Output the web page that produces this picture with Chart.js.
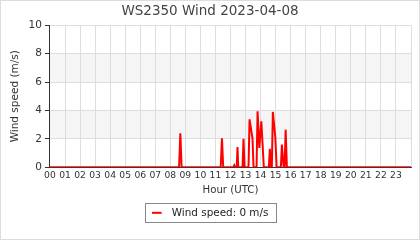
<!DOCTYPE html>
<html>
<head>
<meta charset="utf-8">
<script src="https://cdn.jsdelivr.net/npm/chart.js@4/dist/chart.umd.min.js"></script>
<style>
  html, body { margin: 0; padding: 0; background: #fff; }
  #wrap { width: 418px; height: 238px; border: 1px solid #ddd; }
  canvas { display: block; }
</style>
</head>
<body>
<div id="wrap"><canvas id="windChart" width="418" height="238"></canvas></div>
<script>
// 風速データ (UTC 時刻, m/s)
const times = [
  '00:00',
  '08:35', '08:40', '08:45',
  '11:21', '11:26', '11:31',
  '12:11', '12:15', '12:19',
  '12:25', '12:28', '12:31',
  '12:48', '12:52', '12:56',
  '13:12', '13:16', '13:28', '13:32',
  '13:44', '13:48', '13:55', '14:03', '14:13',
  '14:33', '14:37', '14:41',
  '14:45', '14:49', '14:59', '15:04',
  '15:21', '15:25', '15:32', '15:36', '15:40', '15:45',
  '24:00'
];
const speeds = [
  0,
  0, 2.4, 0,
  0, 2.05, 0,
  0, 0.15, 0,
  0, 1.43, 0,
  0, 2.0, 0,
  0, 3.38, 2.0, 0,
  0, 3.94, 1.36, 3.24, 0,
  0, 1.3, 0,
  0, 3.9, 2.1, 0,
  0, 1.6, 0, 0, 2.65, 0,
  0
];
const hourLabels = ['00', '01', '02', '03', '04', '05', '06', '07', '08', '09', '10', '11',
  '12', '13', '14', '15', '16', '17', '18', '19', '20', '21', '22', '23'];
const bands = [[2, 4], [6, 8]];

function toHour(t) {
  const [h, m] = t.split(':').map(Number);
  return h + m / 60;
}

const points = times.map((t, i) => ({ x: toHour(t), y: speeds[i] }));

// 凡例のマーカー (左寄せの赤い線)
const marker = document.createElement('canvas');
marker.width = 15;
marker.height = 4;
const mctx = marker.getContext('2d');
mctx.fillStyle = '#ff0000';
mctx.fillRect(0, 1, 10, 2);

// 背景の帯
const bandPlugin = {
  id: 'bands',
  beforeDraw(chart) {
    const { ctx, chartArea, scales } = chart;
    ctx.save();
    ctx.fillStyle = '#f5f5f5';
    bands.forEach(([lo, hi]) => {
      const top = scales.y.getPixelForValue(hi);
      const bottom = scales.y.getPixelForValue(lo);
      ctx.fillRect(chartArea.left, top, chartArea.right - chartArea.left, bottom - top);
    });
    ctx.restore();
  }
};

// 凡例の枠
const legendBoxPlugin = {
  id: 'legendBox',
  afterDraw(chart) {
    const box = chart.legend.legendHitBoxes[0];
    if (!box) return;
    const ctx = chart.ctx;
    ctx.save();
    ctx.strokeStyle = '#888';
    ctx.lineWidth = 1;
    ctx.strokeRect(Math.round(box.left - 7) + 0.5, Math.round(box.top - 5) + 0.5,
      Math.round(box.width + 14), Math.round(box.height + 9));
    ctx.restore();
  }
};

new Chart(document.getElementById('windChart'), {
  type: 'line',
  data: {
    datasets: [{
      label: 'Wind speed: 0 m/s',
      data: points,
      borderColor: '#ff0000',
      backgroundColor: '#ff0000',
      borderWidth: 2,
      pointRadius: 0,
      tension: 0,
      fill: false
    }]
  },
  options: {
    responsive: false,
    animation: false,
    layout: { padding: { left: 8, right: 8, top: 0, bottom: 11 } },
    plugins: {
      title: {
        display: true,
        text: 'WS2350 Wind 2023-04-08',
        color: '#444',
        font: { family: 'DejaVu Sans', size: 13.5, weight: 'normal' },
        padding: { top: 2, bottom: 6 }
      },
      legend: {
        position: 'bottom',
        labels: {
          color: '#222',
          font: { family: 'DejaVu Sans', size: 10.4 },
          usePointStyle: true,
          pointStyle: marker,
          pointStyleWidth: 15,
          boxHeight: 10,
          padding: 11
        }
      },
      tooltip: { enabled: false }
    },
    scales: {
      x: {
        type: 'linear',
        min: 0,
        max: 24,
        ticks: {
          stepSize: 1,
          autoSkip: false,
          maxRotation: 0,
          color: '#333',
          padding: 3,
          font: { family: 'DejaVu Sans', size: 9.2 },
          callback: (v) => hourLabels[v] || ''
        },
        grid: { color: '#ddd', drawTicks: false },
        border: { color: '#333', width: 1 },
        title: {
          display: true,
          text: 'Hour (UTC)',
          color: '#333',
          font: { family: 'DejaVu Sans', size: 10.2 },
          padding: { top: 0, bottom: 0 }
        }
      },
      y: {
        min: 0,
        max: 10,
        ticks: {
          stepSize: 1,
          color: '#333',
          padding: 3,
          font: { family: 'DejaVu Sans', size: 10.5 },
          callback: (v) => (v % 2 === 0 ? v : '')
        },
        grid: {
          color: (c) => (c.tick && c.tick.value % 2 === 0 ? '#ddd' : 'transparent'),
          tickColor: '#333',
          tickLength: 5
        },
        border: { color: '#333', width: 1 },
        title: {
          display: true,
          text: 'Wind speed (m/s)',
          color: '#333',
          font: { family: 'DejaVu Sans', size: 10.5 },
          padding: { top: 0, bottom: 4 }
        }
      }
    }
  },
  plugins: [bandPlugin, legendBoxPlugin]
});
</script>
</body>
</html>
